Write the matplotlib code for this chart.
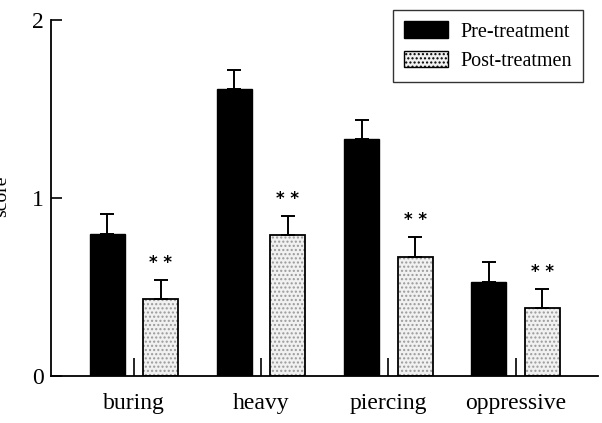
import numpy as np
import matplotlib.pyplot as plt
from matplotlib.patches import Patch

plt.rcParams['font.family'] = ['Liberation Serif', 'DejaVu Serif']

# pain descriptors, mean score and SE
categories = ["buring", "heavy", "piercing", "oppressive"]
pre_mean = [0.80, 1.61, 1.33, 0.53]
pre_err = [0.11, 0.11, 0.11, 0.11]
post_mean = [0.43, 0.79, 0.67, 0.38]
post_err = [0.11, 0.11, 0.11, 0.11]
post_marks = ["* *", "* *", "* *", "* *"]

x = np.arange(len(categories))
w = 0.275
off = 0.21

fig = plt.figure(figsize=(6.02, 4.23), dpi=100)
ax = fig.add_axes([0.0847, 0.111, 0.9083, 0.842])

err_kw = dict(elinewidth=1.4, capsize=5, capthick=1.4, ecolor='black')
ax.bar(x - off, pre_mean, w, color='black', edgecolor='black',
       label='Pre-treatment')
ax.errorbar(x - off, pre_mean, yerr=[np.zeros(4), pre_err], fmt='none', **err_kw)

# stippled fill for post-treatment bars
ax.bar(x + off, post_mean, w, color='#f1f1f1', edgecolor='#9a9a9a',
       hatch='....', linewidth=0)
ax.bar(x + off, post_mean, w, fill=False, edgecolor='black', linewidth=1.3)
ax.errorbar(x + off, post_mean, yerr=[np.zeros(4), post_err], fmt='none', **err_kw)

for xi, m, e, s in zip(x + off, post_mean, post_err, post_marks):
    ax.text(xi, m + e + 0.045, s, ha='center', va='bottom',
            fontsize=12, fontweight='bold', family='DejaVu Sans')

ax.set_xlim(-0.652, 3.645)
ax.set_ylim(0, 2)
ax.set_yticks([0, 1, 2])
ax.set_xticks(x)
ax.set_xticklabels(categories, fontsize=17)
ax.tick_params(axis='x', direction='in', length=13, width=1.2, pad=12)
ax.tick_params(axis='y', direction='in', length=8, width=1.2, labelsize=17, pad=5)
for side in ['top', 'right']:
    ax.spines[side].set_visible(False)
for side in ['left', 'bottom']:
    ax.spines[side].set_linewidth(1.3)

fig.text(0.003, 0.535, 'score', rotation=90, ha='center', va='center', fontsize=14)

handles = [Patch(facecolor='black', edgecolor='black'),
           Patch(facecolor='#f1f1f1', edgecolor='black', hatch='....')]
leg = fig.legend(handles, ['Pre-treatment', 'Post-treatmen'], loc='upper right',
                 bbox_to_anchor=(0.968, 0.976), bbox_transform=fig.transFigure,
                 fontsize=14.5, frameon=True, fancybox=False, borderaxespad=0,
                 handlelength=2.2, handleheight=0.9, borderpad=0.55,
                 labelspacing=0.45, handletextpad=0.6)
leg.get_frame().set_edgecolor('black')
leg.get_frame().set_linewidth(1.0)

fig.savefig('out.png', dpi=100)
